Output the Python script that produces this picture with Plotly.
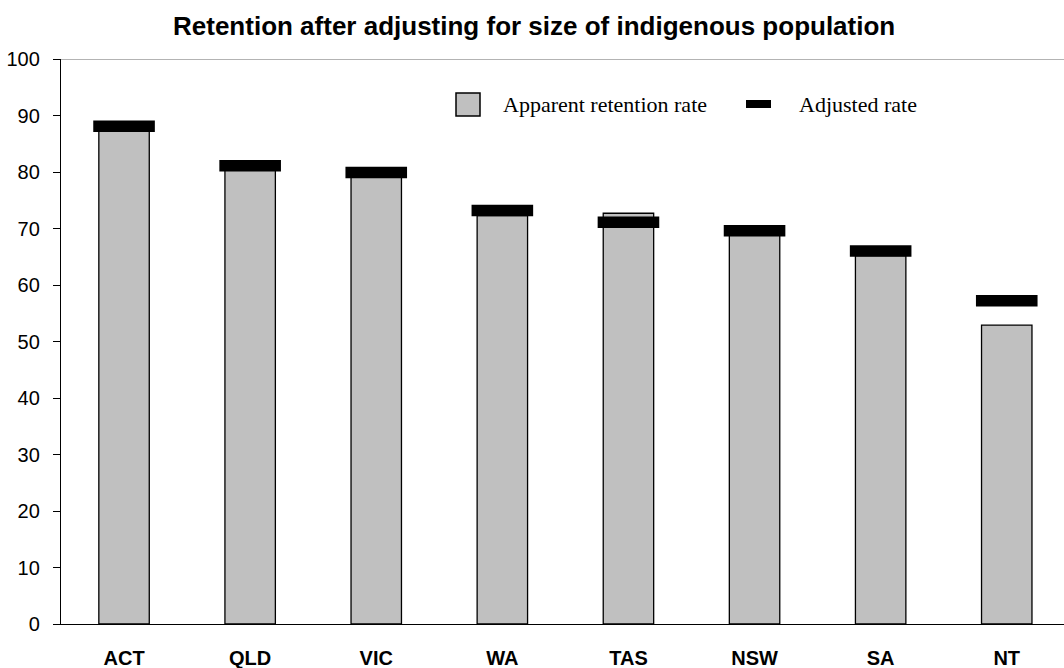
import plotly.graph_objects as go

states = ["ACT", "QLD", "VIC", "WA", "TAS", "NSW", "SA", "NT"]
apparent_rate = [87.2, 80.3, 79.1, 72.3, 72.7, 68.8, 65.2, 52.9]
adjusted_rate = [88.1, 81.1, 79.9, 73.2, 71.1, 69.6, 66.0, 57.2]
y_ticks = [0, 10, 20, 30, 40, 50, 60, 70, 80, 90, 100]

PL, PR, PT, PB = 61, 1064, 59, 624
W, H = PR - PL, PB - PT


def px_x(x):
    return (x - PL) / W


def px_y(y):
    return (PB - y) / H


fig = go.Figure()
fig.add_trace(go.Bar(
    x=states, y=apparent_rate, name="Apparent retention rate",
    width=0.4, marker=dict(color="#c0c0c0", line=dict(color="black", width=1.3)),
    showlegend=False,
))
fig.add_trace(go.Scatter(
    x=states, y=adjusted_rate, name="Adjusted rate", mode="markers",
    marker=dict(symbol="line-ew", size=44, line=dict(color="black", width=11.5)),
    showlegend=False,
))

# top border line at 100
fig.add_shape(type="line", xref="paper", yref="y", x0=0, x1=1, y0=100, y1=100,
              line=dict(color="#9a9a9a", width=1.5))

# custom legend
fig.add_shape(type="rect", xref="paper", yref="paper",
              x0=px_x(456), x1=px_x(480), y0=px_y(116), y1=px_y(93),
              line=dict(color="black", width=1.5), fillcolor="#c0c0c0")
fig.add_annotation(xref="paper", yref="paper", x=px_x(501), y=px_y(104),
                   text="Apparent retention rate", showarrow=False, xanchor="left", yanchor="middle",
                   font=dict(family="Liberation Serif, Times New Roman, serif", size=22, color="black"))
fig.add_shape(type="rect", xref="paper", yref="paper",
              x0=px_x(746), x1=px_x(771), y0=px_y(108), y1=px_y(100),
              line=dict(color="black", width=0), fillcolor="black")
fig.add_annotation(xref="paper", yref="paper", x=px_x(797), y=px_y(104),
                   text="Adjusted rate", showarrow=False, xanchor="left", yanchor="middle",
                   font=dict(family="Liberation Serif, Times New Roman, serif", size=22, color="black"))

fig.update_layout(
    width=1064, height=668,
    margin=dict(l=PL, r=1064 - PR, t=PT, b=668 - PB),
    plot_bgcolor="white", paper_bgcolor="white",
    title=dict(text="<b>Retention after adjusting for size of indigenous population</b>",
               x=0.502, xanchor="center", y=1 - 26 / 668, yanchor="middle",
               font=dict(family="Liberation Sans, Arial, sans-serif", size=26, color="black")),
    font=dict(family="Liberation Sans, Arial, sans-serif", color="black"),
)
fig.update_xaxes(
    type="category", range=[-0.5, 7.454],
    showline=True, linecolor="black", linewidth=1.3,
    ticks="", showgrid=False,
    tickfont=dict(family="Liberation Sans, Arial, sans-serif", size=20, color="black", weight="bold"),
    ticklabelstandoff=16,
)
fig.update_yaxes(
    range=[0, 100], tickvals=y_ticks,
    showline=True, linecolor="black", linewidth=1.3,
    ticks="outside", ticklen=7, tickcolor="black", tickwidth=1.3,
    showgrid=False, zeroline=False,
    tickfont=dict(family="Liberation Sans, Arial, sans-serif", size=20, color="black"),
    ticklabelstandoff=9,
)

fig.write_html(
    "out.html",
    config={"displayModeBar": False},
    post_script="document.body.style.margin='0';document.body.style.overflow='hidden';",
)
